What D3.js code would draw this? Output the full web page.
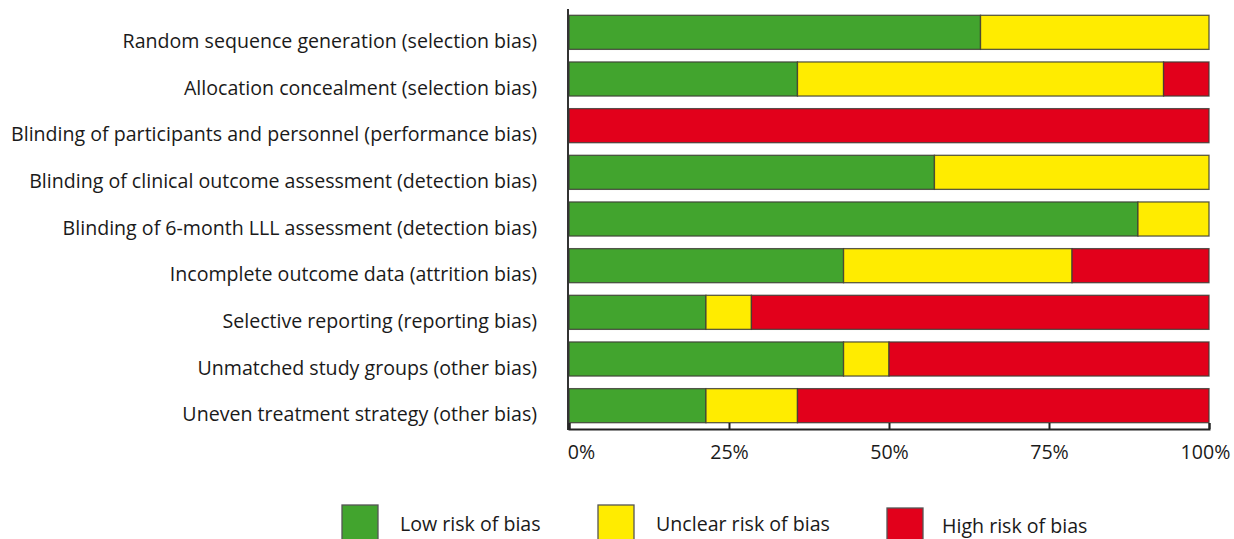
<!DOCTYPE html>
<html>
<head>
<meta charset="utf-8">
<script src="https://cdn.jsdelivr.net/npm/d3@7"></script>
<style>
  html, body { margin: 0; padding: 0; background: #fff; }
  svg { display: block; font-family: "Open Sans", "Noto Sans", sans-serif; }
</style>
</head>
<body>
<svg id="chart" width="1234" height="539"></svg>
<script>
// Risk-of-bias domains, top to bottom
const domains = [
  "Random sequence generation (selection bias)",
  "Allocation concealment (selection bias)",
  "Blinding of participants and personnel (performance bias)",
  "Blinding of clinical outcome assessment (detection bias)",
  "Blinding of 6-month LLL assessment (detection bias)",
  "Incomplete outcome data (attrition bias)",
  "Selective reporting (reporting bias)",
  "Unmatched study groups (other bias)",
  "Uneven treatment strategy (other bias)"
];

// Percentage of studies per judgement
const lowRisk     = [64.3, 35.7,   0, 57.1, 88.9, 42.9, 21.4, 42.9, 21.4];
const unclearRisk = [35.7, 57.2,   0, 42.9, 11.1, 35.7,  7.1,  7.1, 14.3];
const highRisk    = [   0,  7.1, 100,    0,    0, 21.4, 71.5, 50.0, 64.3];

const judgements = ["Low risk of bias", "Unclear risk of bias", "High risk of bias"];
const tickValues = [0, 25, 50, 75, 100];
const tickLabels = ["0%", "25%", "50%", "75%", "100%"];

const colors = ["#42a42e", "#ffec00", "#e2001b"];
const fontSize = 19.6;

const rows = domains.map((d, i) => ({
  domain: d,
  low: lowRisk[i],
  unclear: unclearRisk[i],
  high: highRisk[i]
}));
const keys = ["low", "unclear", "high"];

const svg = d3.select("#chart");

const x = d3.scaleLinear().domain([0, 100]).range([569, 1209]);
const y = d3.scaleBand().domain(domains).range([9, 429]).paddingInner(0.27).paddingOuter(0.135);

const stacked = d3.stack().keys(keys)(rows);

// Stacked bars
svg.append("g")
  .selectAll("g")
  .data(stacked)
  .join("g")
    .attr("fill", (d, i) => colors[i])
  .selectAll("rect")
  .data(d => d.filter(s => s[1] - s[0] > 0))
  .join("rect")
    .attr("x", d => x(d[0]))
    .attr("y", d => y(d.data.domain))
    .attr("width", d => x(d[1]) - x(d[0]))
    .attr("height", y.bandwidth())
    .attr("stroke", "#3d3d35")
    .attr("stroke-opacity", 0.85)
    .attr("stroke-width", 1.3);

// Domain labels (baseline sits near the bottom of each bar)
svg.append("g")
  .selectAll("text")
  .data(domains)
  .join("text")
    .attr("x", 537)
    .attr("y", d => y(d) + y.bandwidth() - 1.5)
    .attr("text-anchor", "end")
    .attr("font-size", fontSize)
    .attr("fill", "#1a1a1a")
    .text(d => d);

// Vertical axis line
svg.append("line")
  .attr("x1", 568).attr("x2", 568)
  .attr("y1", 9).attr("y2", 430)
  .attr("stroke", "#333").attr("stroke-width", 2);

// Percentage axis with inward ticks
const xAxis = d3.axisBottom(x)
  .tickValues(tickValues)
  .tickFormat((d, i) => tickLabels[i])
  .tickSizeInner(-6)
  .tickSizeOuter(-6)
  .tickPadding(16);

const ax = svg.append("g")
  .attr("transform", "translate(0,429)")
  .call(xAxis);
ax.select(".domain").attr("stroke", "#222").attr("stroke-width", 2);
ax.selectAll(".tick line").attr("stroke", "#222").attr("stroke-width", 2);
ax.selectAll(".tick text")
  .attr("font-size", fontSize)
  .attr("font-family", "\"Open Sans\", sans-serif")
  .attr("fill", "#1a1a1a")
  .attr("dx", (d, i) => i === 0 ? 12 : (i === tickValues.length - 1 ? -4 : 0));

// Legend
const legendX = [342, 598, 887];
const legend = svg.append("g")
  .selectAll("g")
  .data(judgements)
  .join("g")
    .attr("transform", (d, i) => `translate(${legendX[i]},${i === 2 ? 508 : 505})`);
legend.append("rect")
  .attr("width", 36).attr("height", 38)
  .attr("fill", (d, i) => colors[i])
  .attr("stroke", "#555").attr("stroke-width", 1.3);
legend.append("text")
  .attr("x", (d, i) => i === 2 ? 55 : 58)
  .attr("y", (d, i) => i === 2 ? 25 : 26)
  .attr("font-size", fontSize)
  .attr("fill", "#1a1a1a")
  .text(d => d);
</script>
</body>
</html>
